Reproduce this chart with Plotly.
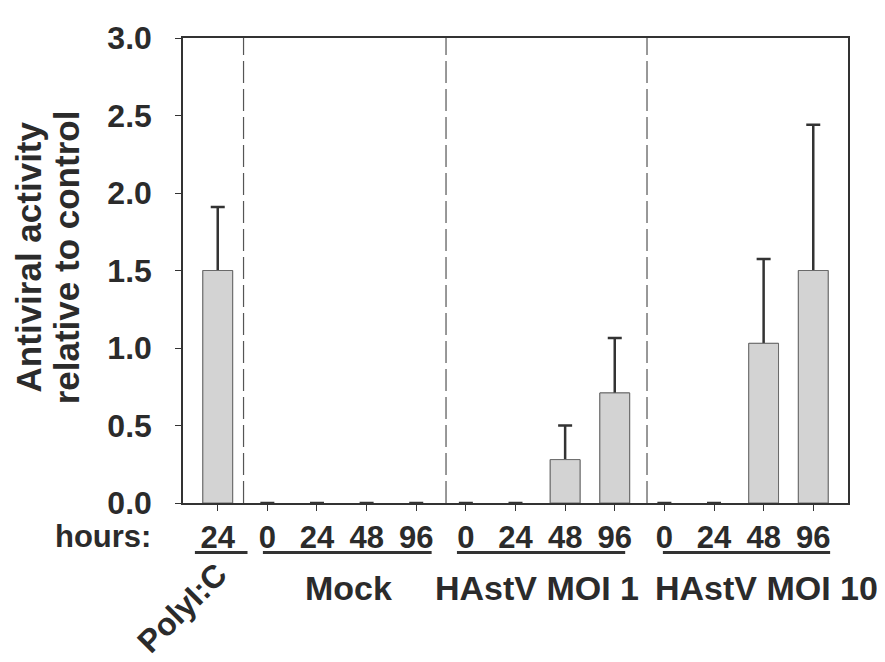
import plotly.graph_objects as go

# ---- data ----
positions = list(range(13))
hours = ["24", "0", "24", "48", "96", "0", "24", "48", "96", "0", "24", "48", "96"]
activity = [1.50, 0, 0, 0, 0, 0, 0, 0.28, 0.71, 0, 0, 1.03, 1.50]
err_top = [1.91, None, None, None, None, None, None, 0.50, 1.065, None, None, 1.575, 2.44]
groups = ["PolyI:C", "Mock", "HAstV MOI 1", "HAstV MOI 10"]

err_plus = [(t - v) if t is not None else None for t, v in zip(err_top, activity)]
err_minus = [v if t is not None else None for t, v in zip(err_top, activity)]
outline = [1 if v > 0 else 0 for v in activity]

FONT = "Liberation Sans, Arial, sans-serif"
TXT = "#2b2b2b"

fig = go.Figure()
# error bars (drawn first, from 0 to top; lower part hidden by the bars on top)
fig.add_trace(go.Bar(
    x=positions, y=activity, width=0.6,
    marker=dict(color="#d3d3d3", line=dict(color="#6a6a6a", width=outline)),
    error_y=dict(type="data", symmetric=False, array=err_plus, arrayminus=err_minus,
                 color="#333333", thickness=2.5, width=7),
    showlegend=False, hoverinfo="skip",
))
# bars
fig.add_trace(go.Bar(
    x=positions, y=activity, width=0.6,
    marker=dict(color="#d3d3d3", line=dict(color="#6a6a6a", width=outline)),
    showlegend=False,
))

shapes = []
for xs in [0.52, 4.6, 8.65]:
    shapes.append(dict(type="line", xref="x", yref="y", x0=xs, x1=xs, y0=0, y1=3,
                       line=dict(color="#555555", width=1.2, dash="22px,6px")))
for x0, x1 in [(-0.46, 0.60), (0.91, 4.31), (4.82, 8.21), (8.97, 12.34)]:
    shapes.append(dict(type="line", xref="x", yref="paper", x0=x0, x1=x1,
                       y0=-0.1067, y1=-0.1067, line=dict(color="#333333", width=3)))

def ann(text, x, y, size, xref="paper", xanchor="center", angle=0):
    return dict(text="<b>" + text + "</b>", xref=xref, yref="paper", x=x, y=y,
                xanchor=xanchor, yanchor="middle", showarrow=False, textangle=angle,
                font=dict(family=FONT, size=size, color=TXT))

annotations = [
    ann("hours:", -0.045, -0.071, 31, xanchor="right"),
    ann(groups[1], 2.64, -0.182, 34, xref="x"),
    ann(groups[2], 6.44, -0.182, 34, xref="x"),
    ann(groups[3], 11.05, -0.182, 34, xref="x"),
    ann(groups[0], -0.0015, -0.226, 32, angle=-45),
    ann("Antiviral activity", -0.2325, 0.529, 35, angle=-90),
    ann("relative to control", -0.1755, 0.529, 35, angle=-90),
]

fig.update_layout(
    width=877, height=654,
    margin=dict(l=175, r=37, t=17, b=159),
    paper_bgcolor="white", plot_bgcolor="white",
    shapes=shapes, annotations=annotations,
    font=dict(family=FONT, color=TXT),
    barmode="overlay",
)
fig.update_xaxes(
    range=[-0.7, 12.7], tickmode="array", tickvals=positions, ticktext=hours,
    ticks="outside", ticklen=6, tickwidth=1.2, tickcolor="#333333",
    showline=True, linecolor="#333333", linewidth=2, mirror=True,
    showgrid=False, zeroline=False,
    tickfont=dict(family=FONT, size=31, color=TXT, weight="bold"),
)
fig.update_yaxes(
    range=[0, 3], tick0=0, dtick=0.5, tickformat=".1f",
    ticks="outside", ticklen=6, tickwidth=1.2, tickcolor="#333333",
    showline=True, linecolor="#333333", linewidth=1.5, mirror=True,
    showgrid=False, zeroline=False, ticklabelstandoff=17,
    ticklabeloverflow="allow",
    tickfont=dict(family=FONT, size=32, color=TXT, weight="bold"),
)

fig.write_html("out.html")
